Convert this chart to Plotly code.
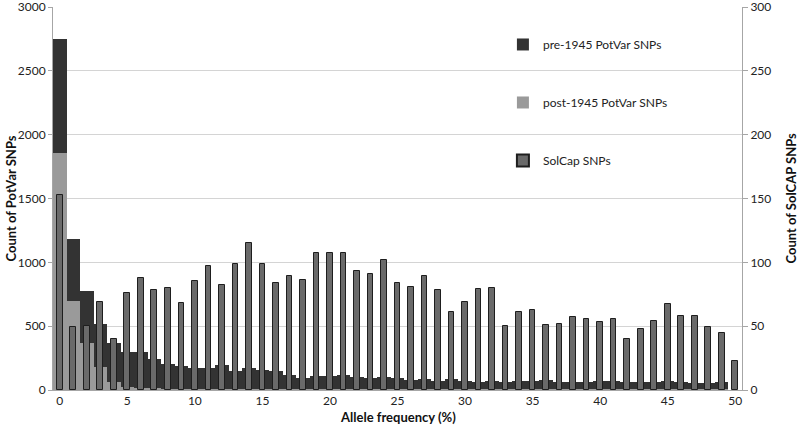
import plotly.graph_objects as go

freq = list(range(0, 51))

pre1945 = [2750, 1180, 775, 520, 372, 294, 300, 240, 201, 190, 170, 170, 196, 151, 170,
           160, 149, 121, 91, 110, 110, 120, 102, 94, 104, 91, 78, 89, 73, 86,
           70, 65, 73, 63, 68, 70, 75, 65, 60, 63, 70, 70, 60, 60, 60,
           70, 62, 52, 57, 62, 0]

post1945 = [1860, 700, 370, 183, 65, 26, 18, 10, 6, 4, 3, 3, 2, 2, 2,
            1, 1, 1, 1, 1, 1, 1, 1, 1, 1, 1, 1, 1, 1, 1,
            1, 1, 1, 1, 1, 1, 1, 1, 1, 1, 1, 1, 1, 1, 1,
            1, 1, 1, 1, 1, 0]

solcap = [153, 49, 50, 69, 40, 76, 88, 78, 80, 68, 85, 97, 82, 99, 115,
          99, 84, 89, 86, 107, 107, 107, 93, 91, 102, 84, 81, 89, 78, 61,
          69, 79, 80, 50, 61, 63, 51, 52, 57, 56, 53, 56, 40, 48, 54,
          67, 58, 58, 49, 45, 23]

x_ticks = list(range(0, 51, 5))
left_ticks = list(range(0, 3001, 500))
right_ticks = list(range(0, 301, 50))

FONT = "Lato, 'Open Sans', sans-serif"
TXT = "#222222"
AX = "#a6a6a6"

fig = go.Figure()
fig.add_trace(go.Bar(x=freq, y=pre1945, width=1, name="pre-1945 PotVar SNPs",
                     marker=dict(color="#333333", line=dict(width=0)),
                     legendgroup="a", opacity=1))
fig.add_trace(go.Bar(x=freq, y=post1945, width=1, name="post-1945 PotVar SNPs",
                     marker=dict(color="#9a9a9a", line=dict(width=0)),
                     legendgroup="b", opacity=1))
fig.add_trace(go.Bar(x=freq, y=solcap, width=0.42, name="SolCap SNPs", yaxis="y2",
                     marker=dict(color="#6a6a6a", line=dict(width=1, color="#1e1e1e")),
                     legendgroup="c", opacity=1))

fig.update_layout(
    width=798, height=429,
    margin=dict(l=53, r=56, t=7, b=39, autoexpand=False),
    paper_bgcolor="white", plot_bgcolor="white",
    barmode="overlay", bargap=0,
    font=dict(family=FONT, size=12, color=TXT),
    xaxis=dict(range=[-0.5, 50.5], tickmode="array", tickvals=x_ticks,
               showgrid=False, zeroline=False, showline=True, linecolor=AX,
               linewidth=1, ticks="", automargin=False, ticklabeloverflow="allow",
               tickfont=dict(size=12, color=TXT)),
    yaxis=dict(range=[0, 3000.01], tickmode="array", tickvals=left_ticks,
               showgrid=True, gridcolor="#d4d4d4", gridwidth=1,
               zeroline=False, showline=True, linecolor=AX, linewidth=1,
               ticks="outside", ticklen=4, tickcolor=AX, automargin=False,
               ticklabeloverflow="allow",
               tickfont=dict(size=12, color=TXT)),
    yaxis2=dict(range=[0, 300.001], tickmode="array", tickvals=right_ticks,
                overlaying="y", side="right", showgrid=False,
                zeroline=False, showline=True, linecolor=AX, linewidth=1,
                ticks="outside", ticklen=5, tickcolor=AX, automargin=False,
                ticklabeloverflow="allow",
                tickfont=dict(size=12, color=TXT)),
    legend=dict(x=0.653, y=0.94, xanchor="left", yanchor="top", bgcolor="rgba(0,0,0,0)",
                traceorder="grouped", tracegroupgap=39, font=dict(size=12, color=TXT),
                itemsizing="constant"),
    showlegend=True,
    annotations=[
        dict(text="<b>Allele frequency (%)</b>", xref="paper", yref="paper",
             x=0.5, y=-0.0705, xanchor="center", yanchor="middle", showarrow=False,
             font=dict(size=13, color="#111111")),
        dict(text="<b>Count of PotVar SNPs</b>", xref="paper", yref="paper",
             x=-0.0624, y=0.5, xanchor="center", yanchor="middle", showarrow=False,
             textangle=-90, font=dict(size=13, color="#111111")),
        dict(text="<b>Count of SolCAP SNPs</b>", xref="paper", yref="paper",
             x=1.0697, y=0.5, xanchor="center", yanchor="middle", showarrow=False,
             textangle=-90, font=dict(size=13, color="#111111")),
    ],
)

fig.write_html("out.html",
               config={"displayModeBar": False},
               post_script="document.body.style.margin='0';document.body.style.padding='0';"
                           "document.body.style.overflow='hidden';")
